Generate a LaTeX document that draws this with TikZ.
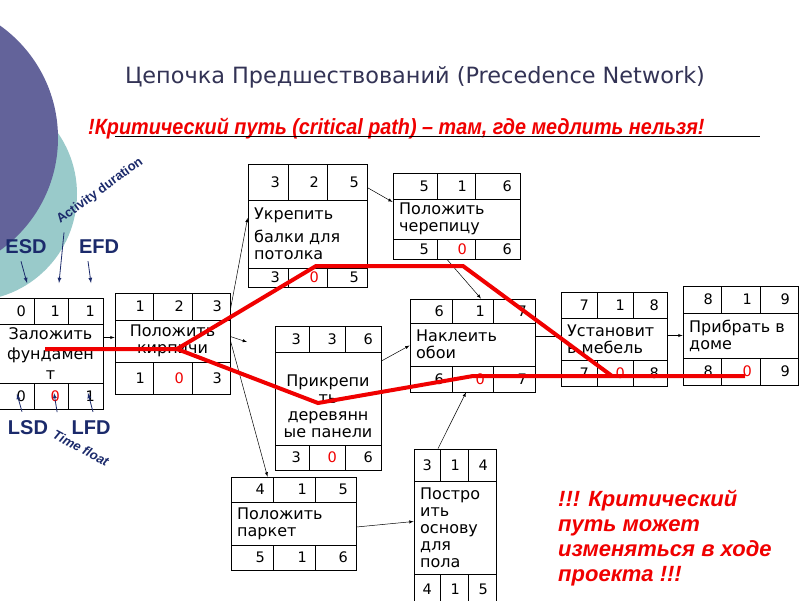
\documentclass[tikz,border=0pt]{standalone}
\usepackage{fontspec}
\setmainfont{DejaVu Sans}
\newfontfamily\labfont{Liberation Sans}
\newfontfamily\narrowfont{Liberation Sans}[FakeStretch=0.9]
\usepackage{xcolor}
\usetikzlibrary{positioning, arrows}

\definecolor{navyblue}{HTML}{1B2A6B}
\definecolor{titlegray}{HTML}{333355}
\definecolor{discpurple}{HTML}{63639A}
\definecolor{discteal}{HTML}{99CACA}
\definecolor{critred}{HTML}{F00000}
\newcommand{\redzero}{\textcolor{critred}{0}}

\tikzset{
    framebox/.style={draw, fill=white, rectangle, inner sep=0pt, line width=0.8pt},
    num/.style={anchor=east, inner sep=0pt, font=\fontsize{14.5}{16}\selectfont},
    task/.style={inner sep=0pt, font=\fontsize{16}{17}\selectfont},
    link/.style={->, >=latex, line width=0.5pt},
    pointer/.style={->, >=latex, navyblue, line width=0.8pt},
    crit/.style={critred, line width=4pt},
    tag/.style={inner sep=0pt, text=navyblue, font=\labfont\bfseries\fontsize{20}{21}\selectfont},
    smalltag/.style={inner sep=0pt, text=navyblue, font=\labfont\bfseries\fontsize{13}{14}\selectfont}
}

\begin{document}
\begin{tikzpicture}[x=1pt, y=-1pt]
        \useasboundingbox (0,0) rectangle (800,600);
        \clip (0,0) rectangle (800,600);
        \fill[white] (0,0) rectangle (800,600);
        \fill[discteal] (-30,194) circle[radius=107pt];
        \fill[discpurple] (-80,138) circle[radius=138pt];

        \node[text=titlegray, font=\fontsize{22.4}{26}\selectfont] (title) at (415,77) {Цепочка Предшествований (Precedence Network)};
        \node[anchor=base west, inner sep=0pt, text=critred, font=\narrowfont\bfseries\itshape\fontsize{22}{24}\selectfont] (motto) at (88,134) {!Критический путь (critical path) – там, где медлить нельзя!};
        \coordinate (motto-end) at (760,136);
        \draw[line width=1pt] ([xshift=27pt, yshift=-2pt]motto.base west) -- (motto-end);

        \foreach \n/\l/\t/\r/\b/\ra/\rb/\ca/\cb in {found/-2/298/103/409/324/383/34/68, brick/115/293/230/394/320/362/153/192, beams/248/164/367/287/200/268/288/327, tiles/393/173/520/259/199/239/437/475, panels/275/326/381/470/352/445/309/345, paper/410/299/535/392/323/366/452/493, furn/561/292/667/386/318/360/597/633, clean/683/286/798/385/313/358/721/760, parquet/231/477/356/570/502/545/273/315, floor/414/449/496/604/481/574/440/468} {
            \node[framebox, minimum width={\r-(\l)}, minimum height={\b-\t}] (\n) at ({(\l+\r)/2}, {(\t+\b)/2}) {};
            \draw[line width=0.8pt] (\l,\ra) -- (\r,\ra) (\l,\rb) -- (\r,\rb);
            \draw[line width=0.8pt] (\ca,\t) -- (\ca,\ra) (\cb,\t) -- (\cb,\ra) (\ca,\rb) -- (\ca,\b) (\cb,\rb) -- (\cb,\b);
            \coordinate (\n-1) at (\ca-8, {(\t+\ra)/2});
            \coordinate (\n-2) at (\cb-8, {(\t+\ra)/2});
            \coordinate (\n-3) at (\r-8, {(\t+\ra)/2});
            \coordinate (\n-4) at (\ca-8, {(\rb+\b)/2});
            \coordinate (\n-5) at (\cb-8, {(\rb+\b)/2});
            \coordinate (\n-6) at (\r-8, {(\rb+\b)/2});
            \coordinate (\n-m) at ({(\l+\r)/2}, {(\ra+\rb)/2});
            \coordinate (\n-w) at (\l+6, {(\ra+\rb)/2});
        }
        \foreach \n/\a/\b/\c/\d/\e/\f in {found/0/1/1/0/\redzero/1, brick/1/2/3/1/\redzero/3, beams/3/2/5/3/\redzero/5, tiles/5/1/6/5/\redzero/6, panels/3/3/6/3/\redzero/6, paper/6/1/7/6/\redzero/7, furn/7/1/8/7/\redzero/8, clean/8/1/9/8/\redzero/9, parquet/4/1/5/5/1/6, floor/3/1/4/4/1/5} {
            \node[num] at (\n-1) {\a};
            \node[num] at (\n-2) {\b};
            \node[num] at (\n-3) {\c};
            \node[num] at (\n-4) {\d};
            \node[num] at (\n-5) {\e};
            \node[num] at (\n-6) {\f};
        }

        \node[task, align=center] at (found-m) {Заложить\\[3pt]фундамен\\[3pt]т};
        \node[task, align=center] at (brick-m) {Положить\\кирпичи};
        \node[task, align=left, anchor=west] at (beams-w) {Укрепить\\[6pt]балки для\\потолка};
        \node[task, align=left, anchor=west] at (tiles-w) {Положить\\черепицу};
        \node[task, align=center, yshift=-8pt] at (panels-m) {Прикрепи\\ть\\деревянн\\ые панели};
        \node[task, align=left, anchor=west] at (paper-w) {Наклеить\\обои};
        \node[task, align=left, anchor=west] at (furn-w) {Установит\\ь мебель};
        \node[task, align=left, anchor=west] at (clean-w) {Прибрать в\\доме};
        \node[task, align=left, anchor=west] at (parquet-w) {Положить\\паркет};
        \node[task, align=left, anchor=west] at (floor-w) {Постро\\ить\\основу\\для\\пола};

        \coordinate (brick-out) at (247,342);
        \draw[link] ([yshift=6pt]brick.west -| found.east) -- ([yshift=6pt]brick.west);
        \draw[link] ([yshift=-17pt]brick.north east) -- ([yshift=7.5pt]beams.west);
        \draw[link] ([yshift=7pt]brick.east) -- (brick-out);
        \draw[link] ([yshift=3pt]brick.east) -- ([xshift=-26pt]parquet.north);
        \draw[link] ([yshift=-24pt]beams.north east) -- ([yshift=14pt]tiles.west);
        \draw[link] ([xshift=-9.5pt]tiles.south) -- ([xshift=8.5pt]paper.north);
        \draw[link] ([yshift=37pt]panels.east) -- (paper.west);
        \draw[link] ([yshift=3pt]furn.west -| paper.east) -- ([yshift=3pt]furn.west);
        \draw[link] (clean.west -| furn.east) -- (clean.west);
        \draw[link] ([yshift=-3.5pt]parquet.east) -- ([yshift=5pt]floor.west);
        \draw[link] ([xshift=-17pt]floor.north) -- ([xshift=-6.5pt]paper.south);

        \coordinate (c1) at (45,349);
        \coordinate (c2) at (177,349);
        \coordinate (c3) at (316,266);
        \coordinate (c4) at (463,266);
        \coordinate (c5) at (612,376);
        \coordinate (c6) at (318,403);
        \coordinate (c7) at (473,376);
        \coordinate (c8) at (745,376);
        \draw[crit] (c1) -- (c2) -- (c3) -- (c4) -- (c5);
        \draw[crit] (c2) -- (c6) -- (c7) -- (c8);

        \node[tag] (esd) at (26,247) {ESD};
        \node[tag] (efd) at (99,247) {EFD};
        \node[tag] (lsd) at (28,428) {LSD};
        \node[tag] (lfd) at (91,428) {LFD};
        \node[smalltag, rotate=36] (dur) at (100,191) {Activity duration};
        \node[smalltag, rotate=-28, font=\labfont\bfseries\itshape\fontsize{13}{14}\selectfont] (float) at (81,448) {Time float};
        \coordinate (esd-tip) at (27,283);
        \coordinate (dur-tip) at (59,283);
        \coordinate (efd-tip) at (91,283);
        \coordinate (lsd-tip) at (17,394);
        \coordinate (float-tip) at (54,393);
        \coordinate (lfd-tip) at (88,393);
        \draw[pointer] ([xshift=-5pt, yshift=-7pt]esd.south) -- (esd-tip);
        \draw[pointer] ([xshift=2pt, yshift=-6pt]dur.south west) -- (dur-tip);
        \draw[pointer] ([xshift=-11pt, yshift=-7pt]efd.south) -- (efd-tip);
        \draw[pointer] ([xshift=-6pt, yshift=9pt]lsd.north) -- (lsd-tip);
        \draw[pointer] ([xshift=1pt, yshift=17pt]float.north west) -- (float-tip);
        \draw[pointer] ([xshift=2pt, yshift=9pt]lfd.north) -- (lfd-tip);

        \node[anchor=north west, inner sep=0pt, align=left, text=critred, font=\labfont\bfseries\itshape\fontsize{22}{25}\selectfont] (note) at (558,490) {!!! Критический\\путь может\\изменяться в ходе\\проекта !!!};
    \end{tikzpicture}
\end{document}
